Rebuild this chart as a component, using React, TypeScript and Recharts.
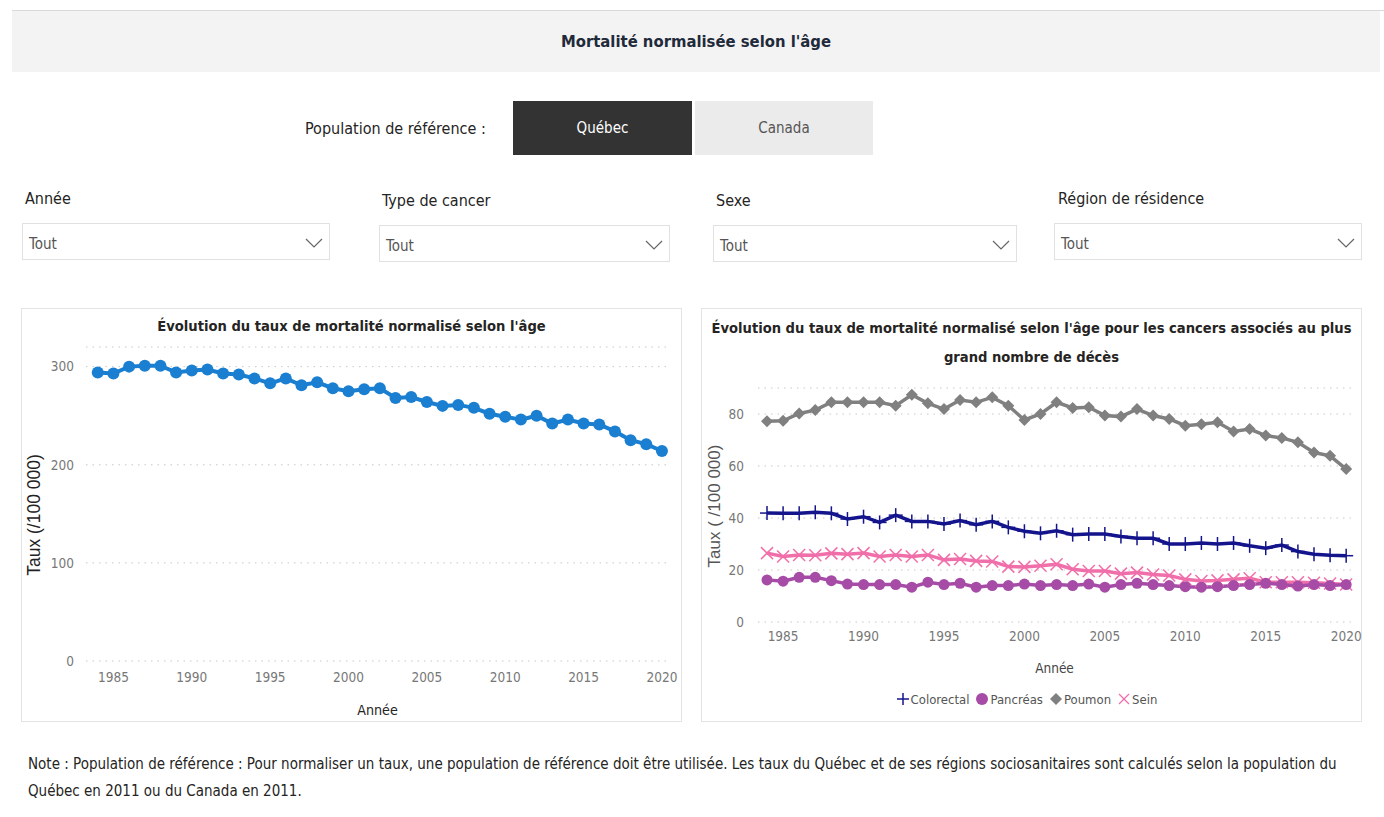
import React from 'react';
import { LineChart, Line, XAxis, YAxis, CartesianGrid, Legend } from 'recharts';

const years = [
  1984, 1985, 1986, 1987, 1988, 1989, 1990, 1991, 1992, 1993, 1994, 1995, 1996,
  1997, 1998, 1999, 2000, 2001, 2002, 2003, 2004, 2005, 2006, 2007, 2008, 2009,
  2010, 2011, 2012, 2013, 2014, 2015, 2016, 2017, 2018, 2019, 2020,
];
const yearTicks = [1985, 1990, 1995, 2000, 2005, 2010, 2015, 2020];

const tauxTotal = [
  294, 293, 300, 301, 301, 294, 296, 297, 293, 292, 288, 283, 288, 281, 284, 278, 275,
  277, 278, 268, 269, 264, 260, 261, 258, 252, 249, 246, 250, 242, 246, 242, 241, 234, 225, 221, 214,
];
const colorectal = [
  41.9, 41.8, 41.8, 42.2, 41.8, 39.6, 40.5, 38.3, 41.1, 38.7, 38.7, 37.7, 39.0, 37.4, 38.7, 36.4, 34.9,
  34.1, 35.1, 33.6, 33.8, 33.8, 32.9, 32.2, 32.2, 30.0, 30.0, 30.4, 30.0, 30.4, 29.3, 28.4, 29.6, 27.1, 26.1, 25.7, 25.5,
];
const pancreas = [
  16.2, 15.7, 17.2, 17.2, 15.9, 14.6, 14.4, 14.4, 14.4, 13.4, 15.3, 14.4, 14.9, 13.4, 14.0, 14.0, 14.6,
  14.0, 14.4, 14.0, 14.6, 13.4, 14.4, 14.9, 14.4, 14.0, 13.6, 13.4, 13.6, 14.0, 14.4, 14.9, 14.4, 13.8, 14.4, 14.0, 14.4,
];
const poumon = [
  77.2, 77.4, 80.2, 81.5, 84.5, 84.5, 84.5, 84.5, 83.2, 87.4, 84.1, 81.9, 85.4, 84.5, 86.4, 83.2, 77.7,
  80.0, 84.5, 82.3, 82.6, 79.4, 79.0, 81.9, 79.4, 78.1, 75.5, 76.1, 76.8, 73.3, 74.2, 71.7, 70.8, 69.1, 65.2, 63.9, 58.8,
];
const sein = [
  26.5, 25.2, 25.8, 25.7, 26.4, 26.1, 26.5, 25.2, 25.8, 25.2, 25.8, 23.9, 24.2, 23.5, 23.3, 21.3, 21.2,
  21.6, 22.2, 20.3, 19.6, 19.6, 18.6, 19.0, 18.3, 17.9, 16.4, 15.8, 16.0, 16.4, 16.8, 15.3, 15.3, 15.3, 15.1, 14.8, 14.4,
];

const leftTicks = [0, 100, 200, 300];
const rightTicks = [0, 20, 40, 60, 80];
const slicers = ['Année', 'Type de cancer', 'Sexe', 'Région de résidence'];

const totalData = years.map((annee, i) => ({ annee, taux: tauxTotal[i] }));
const cancerData = years.map((annee, i) => ({
  annee,
  colorectal: colorectal[i],
  pancreas: pancreas[i],
  poumon: poumon[i],
  sein: sein[i],
}));

const FONT = '"DejaVu Sans Condensed", "Open Sans", sans-serif';
const ARIAL = '"Liberation Sans", Arial, sans-serif';
const TEXT = '#252423';
const TICK = '#777777';

const COLORS = {
  colorectal: '#14148c',
  pancreas: '#a64ca6',
  poumon: '#808080',
  sein: '#f06eaa',
};

const PlusDot = (p: any) => (
  <g key={p.index} stroke={COLORS.colorectal} strokeWidth={1.5}>
    <line x1={p.cx - 7} y1={p.cy} x2={p.cx + 7} y2={p.cy} />
    <line x1={p.cx} y1={p.cy - 7} x2={p.cx} y2={p.cy + 7} />
  </g>
);
const CircleDot = (p: any) => <circle key={p.index} cx={p.cx} cy={p.cy} r={5.5} fill={COLORS.pancreas} />;
const DiamondDot = (p: any) => (
  <polygon
    key={p.index}
    points={`${p.cx},${p.cy - 6} ${p.cx + 6},${p.cy} ${p.cx},${p.cy + 6} ${p.cx - 6},${p.cy}`}
    fill={COLORS.poumon}
  />
);
const CrossDot = (p: any) => (
  <g key={p.index} stroke={COLORS.sein} strokeWidth={1.5}>
    <line x1={p.cx - 6} y1={p.cy - 6} x2={p.cx + 6} y2={p.cy + 6} />
    <line x1={p.cx - 6} y1={p.cy + 6} x2={p.cx + 6} y2={p.cy - 6} />
  </g>
);

const legendItems = [
  { name: 'Colorectal', icon: <g stroke={COLORS.colorectal} strokeWidth={1.5}><line x1={1} y1={7} x2={13} y2={7} /><line x1={7} y1={1} x2={7} y2={13} /></g> },
  { name: 'Pancréas', icon: <circle cx={7} cy={7} r={6} fill={COLORS.pancreas} /> },
  { name: 'Poumon', icon: <polygon points="7,1 13,7 7,13 1,7" fill={COLORS.poumon} /> },
  { name: 'Sein', icon: <g stroke={COLORS.sein} strokeWidth={1.3}><line x1={2} y1={2} x2={12} y2={12} /><line x1={2} y1={12} x2={12} y2={2} /></g> },
];

const CancerLegend = () => (
  <div style={{ height: 20, display: 'flex', justifyContent: 'center', alignItems: 'center', fontFamily: FONT, fontSize: 13, color: '#555', paddingLeft: 6 }}>
    {legendItems.map((it) => (
      <span key={it.name} style={{ display: 'inline-flex', alignItems: 'center', marginRight: 6 }}>
        <svg width={14} height={14} style={{ marginRight: 1 }}>{it.icon}</svg>
        {it.name}
      </span>
    ))}
  </div>
);

const Chevron = () => (
  <svg width={18} height={10} style={{ position: 'absolute', right: 6, top: 14 }}>
    <polyline points="1,1 9,9 17,1" fill="none" stroke="#666" strokeWidth={1.2} />
  </svg>
);

const abs = (left: number, top: number, extra: React.CSSProperties = {}): React.CSSProperties => ({
  position: 'absolute',
  left,
  top,
  ...extra,
});

const slicerPos = [
  { lx: 25, ly: 189, bx: 22, by: 223, bw: 308 },
  { lx: 382, ly: 191, bx: 379, by: 225, bw: 291 },
  { lx: 716, ly: 191, bx: 713, by: 225, bw: 304 },
  { lx: 1058, ly: 189, bx: 1054, by: 223, bw: 308 },
];

const tickStyle = { fill: TICK, fontSize: 13.5, fontFamily: FONT };
const cardStyle: React.CSSProperties = { border: '1px solid #e3e3e3', width: 659, height: 412, background: '#fff' };

export default function App() {
  return (
    <div style={{ position: 'absolute', left: 0, top: 0, width: 1384, height: 817, background: '#fff', fontFamily: FONT, overflow: 'hidden', color: TEXT }}>
      <div style={abs(12, 10, { width: 1372, height: 1, background: '#d9d9d9' })} />
      <div style={abs(12, 11, { width: 1368, height: 61, background: '#f3f3f3', display: 'flex', alignItems: 'center', justifyContent: 'center', fontWeight: 'bold', fontSize: 16.5, color: '#1f2a3a' })}>
        Mortalité normalisée selon l'âge
      </div>

      <div style={abs(305, 119, { fontSize: 16 })}>Population de référence :</div>
      <div style={abs(513, 101, { width: 179, height: 54, background: '#333333', color: '#fff', display: 'flex', alignItems: 'center', justifyContent: 'center', fontSize: 15 })}>
        Québec
      </div>
      <div style={abs(695, 101, { width: 178, height: 54, background: '#ebebeb', color: '#555', display: 'flex', alignItems: 'center', justifyContent: 'center', fontSize: 15 })}>
        Canada
      </div>

      {slicers.map((s, i) => {
        const p = slicerPos[i];
        return (
          <React.Fragment key={s}>
            <div style={abs(p.lx, p.ly, { fontSize: 16 })}>{s}</div>
            <div style={abs(p.bx, p.by, { width: p.bw, height: 37, border: '1px solid #e1e1e1', boxSizing: 'border-box' })}>
              <span style={{ position: 'absolute', left: 6, top: 11, fontSize: 15, color: '#555' }}>Tout</span>
              <Chevron />
            </div>
          </React.Fragment>
        );
      })}

      <div style={abs(21, 308, cardStyle)}>
        <div style={{ position: 'absolute', left: 0, width: 659, top: 8, textAlign: 'center', fontWeight: 'bold', fontSize: 14.6, whiteSpace: 'nowrap' }}>
          Évolution du taux de mortalité normalisé selon l'âge
        </div>
        <LineChart width={660} height={413} data={totalData} margin={{ top: 38, right: 13, bottom: 0, left: 0 }}>
          <CartesianGrid vertical={false} stroke="#c8c8c8" strokeDasharray="1.5 5" />
          <XAxis
            dataKey="annee"
            type="number"
            domain={[1983.25, 2020.45]}
            ticks={yearTicks}
            tickLine={false}
            axisLine={false}
            height={61}
            tickMargin={5}
            tick={tickStyle}
            label={{ value: 'Année', position: 'insideBottom', offset: 7, fill: TEXT, fontSize: 14.2, fontFamily: FONT }}
          />
          <YAxis
            domain={[0, 320]}
            ticks={leftTicks}
            width={64}
            tickLine={false}
            axisLine={false}
            tickMargin={6}
            tick={tickStyle}
            label={{ value: 'Taux (/100 000)', angle: -90, position: 'center', dx: -20, dy: 11, fill: '#222', fontSize: 17.5, fontFamily: ARIAL }}
          />
          <Line
            type="linear"
            dataKey="taux"
            stroke="#1a7fd1"
            strokeWidth={4}
            dot={{ r: 6, fill: '#1a7fd1', stroke: 'none' }}
            isAnimationActive={false}
          />
        </LineChart>
      </div>

      <div style={abs(701, 308, cardStyle)}>
        <div style={{ position: 'absolute', left: 0, width: 659, top: 4, textAlign: 'center', fontWeight: 'bold', fontSize: 14.6, lineHeight: '29px', whiteSpace: 'nowrap' }}>
          Évolution du taux de mortalité normalisé selon l'âge pour les cancers associés au plus
          <br />
          grand nombre de décès
        </div>
        <LineChart width={660} height={413} data={cancerData} margin={{ top: 79, right: 11, bottom: 13, left: 0 }}>
          <CartesianGrid vertical={false} stroke="#c8c8c8" strokeDasharray="1.5 5" />
          <XAxis
            dataKey="annee"
            type="number"
            domain={[1983.44, 2020.3]}
            ticks={yearTicks}
            tickLine={false}
            axisLine={false}
            height={67}
            tickMargin={3}
            tick={tickStyle}
            label={{ value: 'Année', position: 'insideBottom', offset: 16, fill: '#444', fontSize: 13.5, fontFamily: FONT }}
          />
          <YAxis
            domain={[0, 90]}
            ticks={rightTicks}
            width={56}
            tickLine={false}
            axisLine={false}
            tickMargin={8}
            tick={tickStyle}
            label={{ value: 'Taux ( /100 000)', angle: -90, position: 'center', dx: -16, dy: 1, fill: '#555', fontSize: 17, fontFamily: ARIAL }}
          />
          <Legend verticalAlign="bottom" content={<CancerLegend />} />
          <Line type="linear" dataKey="poumon" name="Poumon" stroke={COLORS.poumon} strokeWidth={3.5} dot={DiamondDot} isAnimationActive={false} />
          <Line type="linear" dataKey="colorectal" name="Colorectal" stroke={COLORS.colorectal} strokeWidth={3.5} dot={PlusDot} isAnimationActive={false} />
          <Line type="linear" dataKey="sein" name="Sein" stroke={COLORS.sein} strokeWidth={3.5} dot={CrossDot} isAnimationActive={false} />
          <Line type="linear" dataKey="pancreas" name="Pancréas" stroke={COLORS.pancreas} strokeWidth={3.5} dot={CircleDot} isAnimationActive={false} />
        </LineChart>
      </div>

      <div style={abs(28, 751, { fontSize: 15, lineHeight: '27px', whiteSpace: 'nowrap' })}>
        Note : Population de référence : Pour normaliser un taux, une population de référence doit être utilisée. Les taux du Québec et de ses régions sociosanitaires sont calculés selon la population du
        <br />
        Québec en 2011 ou du Canada en 2011.
      </div>
    </div>
  );
}
